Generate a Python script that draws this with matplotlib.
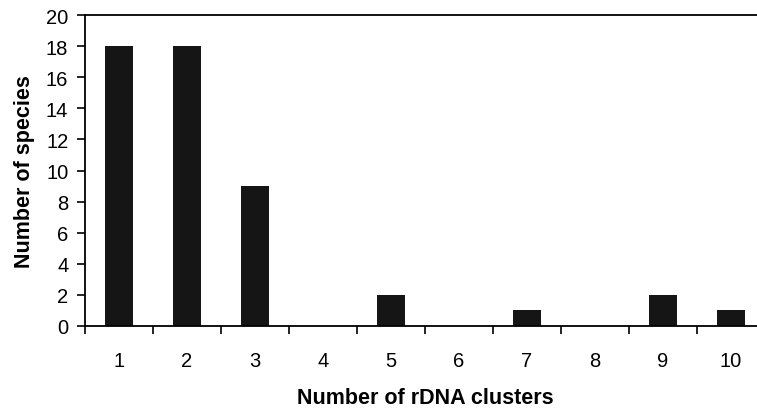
import matplotlib.pyplot as plt
import numpy as np

plt.rcParams['font.family'] = ['Liberation Sans', 'DejaVu Sans']

clusters = ["1", "2", "3", "4", "5", "6", "7", "8", "9", "10"]
species = [18, 18, 9, 0, 2, 0, 1, 0, 2, 1]

fig = plt.figure(figsize=(7.57, 4.10), dpi=100)
ax = fig.add_axes([85/757, 83/410, 680/757, 311/410])

x = np.arange(len(clusters)) + 0.5
ax.bar(x, species, width=0.41, color='#151515')

ax.set_xlim(0, len(clusters))
ax.set_ylim(0, 20)
ax.set_yticks(range(0, 21, 2))
ax.set_xticks(x)
ax.set_xticklabels(clusters)
ax.set_xticks(np.arange(0, len(clusters) + 1), minor=True)
ax.tick_params(axis='x', which='major', length=0, pad=18, labelsize=14.5)
ax.tick_params(axis='x', which='minor', length=6, width=1.2, direction='out')
ax.tick_params(axis='y', length=6, width=1.2, direction='out', labelsize=14.5, pad=6)

for s in ['left', 'bottom', 'top']:
    ax.spines[s].set_linewidth(1.3)
ax.spines['right'].set_visible(False)

ax.set_xlabel("Number of rDNA clusters", fontsize=15.5, fontweight='bold', labelpad=12)
ax.set_ylabel("Number of species", fontsize=15.5, fontweight='bold', labelpad=8)

fig.savefig("out.png", dpi=100)
